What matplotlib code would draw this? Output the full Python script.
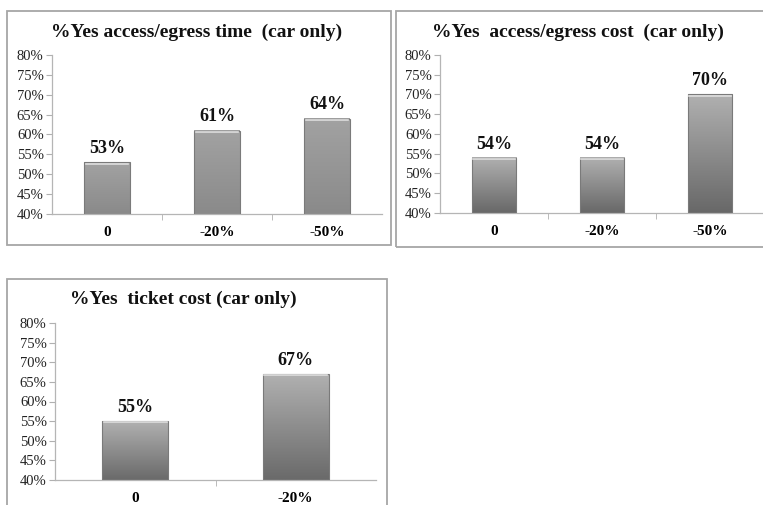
import numpy as np
import matplotlib.pyplot as plt
from matplotlib.colors import LinearSegmentedColormap
from matplotlib.patches import Rectangle
from matplotlib.ticker import FuncFormatter, MultipleLocator

# Data
titles = ['%Yes access/egress time  (car only)',
          '%Yes  access/egress cost  (car only)',
          '%Yes  ticket cost (car only)']
cats_time = ['0', '-20%', '-50%']
vals_time = [53, 61, 64]
cats_acost = ['0', '-20%', '-50%']
vals_acost = [54, 54, 70]
cats_ticket = ['0', '-20%']
vals_ticket = [55, 67]

plt.rcParams['font.family'] = ['Liberation Serif', 'DejaVu Serif']

W, H = 763, 505
fig = plt.figure(figsize=(W / 100, H / 100), dpi=100)


def px_axes(x0, y0, x1, y1):
    # pixel box (top-left origin) -> figure axes
    return fig.add_axes([x0 / W, 1 - y1 / H, (x1 - x0) / W, (y1 - y0) / H])


def frame(x0, y0, x1, y1):
    fig.patches.append(Rectangle((x0 / W, 1 - y1 / H), (x1 - x0) / W, (y1 - y0) / H,
                                 transform=fig.transFigure, fill=False,
                                 edgecolor='#a6a6a6', linewidth=1.3))


def draw_panel(ax, cats, vals, title, title_xy, top_c, bot_c):
    cmap = LinearSegmentedColormap.from_list('g', [bot_c, top_c])
    grad = np.linspace(1, 0, 100).reshape(-1, 1)
    x = np.arange(len(cats))
    bw = 0.41
    for xi, v in zip(x, vals):
        ax.imshow(grad, extent=[xi - bw / 2, xi + bw / 2, 40, v], aspect='auto',
                  cmap=cmap, vmin=0, vmax=1, zorder=2, interpolation='bilinear')
        ax.add_patch(Rectangle((xi - bw / 2, 40), bw, v - 40, fill=False,
                               edgecolor='#7a7a7a', linewidth=0.8, zorder=3))
        ax.plot([xi - bw / 2 + 0.01, xi + bw / 2 - 0.01], [v - 0.35, v - 0.35],
                color='#dedede', linewidth=1.2, zorder=4)
        ax.text(xi, v + 1.3, f'{v}%', ha='center', va='bottom',
                fontsize=13, fontweight='bold', color='#111111')
    ax.set_xlim(-0.5, len(cats) - 0.5)
    ax.set_ylim(40, 80)
    ax.yaxis.set_major_locator(MultipleLocator(5))
    ax.yaxis.set_major_formatter(FuncFormatter(lambda y, p: f'{y:.0f}%'))
    ax.set_xticks(x)
    ax.set_xticklabels(cats, fontsize=11, fontweight='bold')
    ax.set_xticks(np.arange(len(cats) - 1) + 0.5, minor=True)
    ax.tick_params(axis='x', which='major', length=0, pad=9)
    ax.tick_params(axis='x', which='minor', length=4, color='#b0b0b0', direction='out')
    ax.tick_params(axis='y', length=4, color='#b0b0b0', labelsize=10.5, pad=2,
                   labelcolor='#222222')
    for s in ['top', 'right']:
        ax.spines[s].set_visible(False)
    for s in ['left', 'bottom']:
        ax.spines[s].set_color('#b5b5b5')
        ax.spines[s].set_linewidth(0.9)
    fig.text(title_xy[0] / W, 1 - title_xy[1] / H, title, ha='center', va='center',
             fontsize=14, fontweight='bold', color='#111111')


# frames round each chart
frame(7, 11, 391, 245)
frame(396, 11, 770, 247)
frame(7, 279, 387, 520)

ax1 = px_axes(52, 55, 382, 214)
draw_panel(ax1, cats_time, vals_time, titles[0], (197, 32), '#a2a2a2', '#8a8a8a')

ax2 = px_axes(440, 55, 764, 213)
draw_panel(ax2, cats_acost, vals_acost, titles[1], (578, 32), '#b0b0b0', '#686868')

ax3 = px_axes(55, 323, 376, 480)
draw_panel(ax3, cats_ticket, vals_ticket, titles[2], (183, 299), '#b0b0b0', '#6a6a6a')

plt.savefig('out.png', dpi=100)
